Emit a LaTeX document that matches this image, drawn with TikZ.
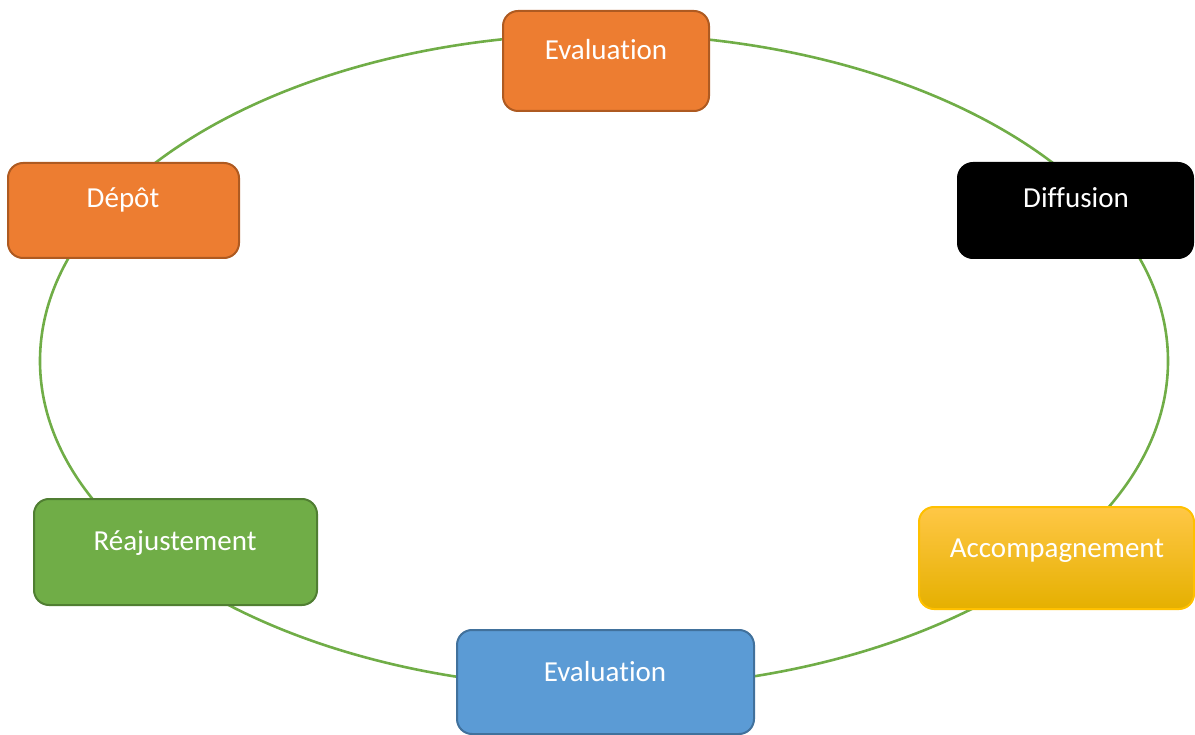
\documentclass[tikz,border=0pt]{standalone}
\usepackage{fontspec}
\setmainfont[Ligatures={NoCommon,NoContextual}]{Carlito}
\definecolor{ringgreen}{HTML}{70AD47}
\definecolor{orfill}{HTML}{ED7D31}
\definecolor{ordraw}{HTML}{AE5A21}
\definecolor{grfill}{HTML}{70AD47}
\definecolor{grdraw}{HTML}{507E32}
\definecolor{blfill}{HTML}{5B9BD5}
\definecolor{bldraw}{HTML}{41719C}
\definecolor{yetop}{HTML}{FFC746}
\definecolor{yemid}{HTML}{FFC000}
\definecolor{yebot}{HTML}{E5B000}
\definecolor{yedraw}{HTML}{FFC000}
\tikzset{
  stagebox/.style={rounded corners=15pt, line width=2pt},
  orangebox/.style={stagebox, fill=orfill, draw=ordraw},
  blackbox/.style={stagebox, fill=black, draw=black},
  yellowbox/.style={stagebox, top color=yetop, middle color=yemid, bottom color=yebot, draw=yedraw},
  greenbox/.style={stagebox, fill=grfill, draw=grdraw},
  bluebox/.style={stagebox, fill=blfill, draw=bldraw},
  stagetext/.style={anchor=base, text=white, inner sep=0pt, font=\fontsize{29}{34}\selectfont},
  ring/.style={draw=ringgreen, line width=2.6pt}
}
\begin{document}
\begin{tikzpicture}[x=1pt,y=-1pt]
\useasboundingbox (0,0) rectangle (1195,735);
\coordinate (c) at (604,361);
\draw[ring] (c) ellipse [x radius=564pt, y radius=327pt];
% boxes
\draw[orangebox] (503,11) rectangle (709,111);
\node[stagetext] (evaltop) at (606,60) {Evaluation};
\draw[orangebox] (8,163) rectangle (239,258);
\node[stagetext] (depot) at (123,208) {Dépôt};
\draw[blackbox] (958,163) rectangle (1193,258);
\node[stagetext] (diffusion) at (1076,208) {Diffusion};
\draw[yellowbox] (919,507) rectangle (1194,609);
\node[stagetext] (accomp) at (1057,557) {Accompagnement};
\draw[greenbox] (34,499) rectangle (317,605);
\node[stagetext] (reaj) at (175,550) {Réajustement};
\draw[bluebox] (457,630) rectangle (754,734);
\node[stagetext] (evalbot) at (605,681) {Evaluation};
\end{tikzpicture}
\end{document}
